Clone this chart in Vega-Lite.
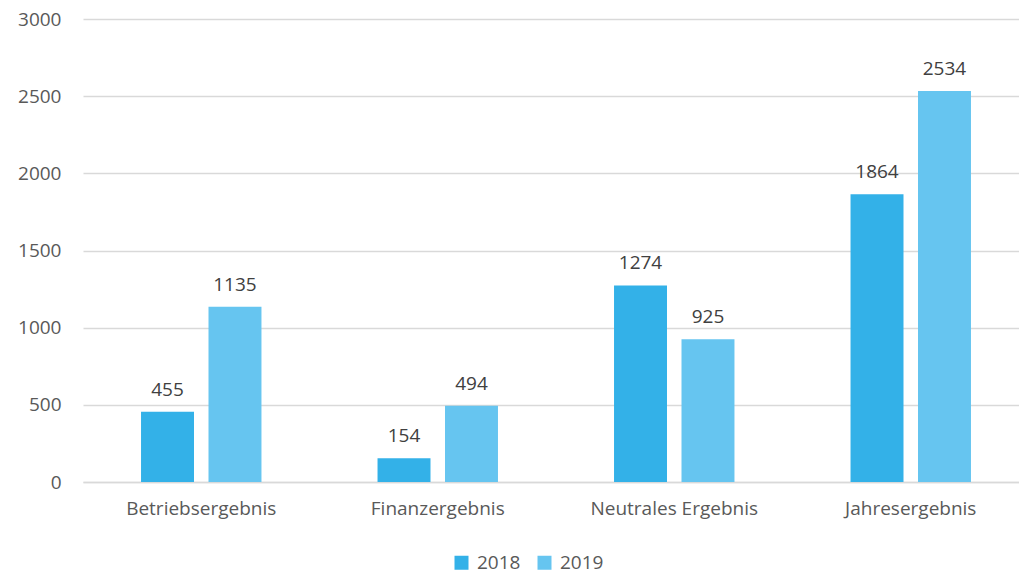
{
  "$schema": "https://vega.github.io/schema/vega-lite/v6.json",
  "width": 946,
  "height": 463,
  "autosize": {"type": "none"},
  "padding": {"left": 83, "top": 19, "right": 0, "bottom": 92},
  "config": {
    "view": {"stroke": null},
    "font": "Open Sans"
  },
  "data": {
    "values": [
      {"kategorie": "Betriebsergebnis", "jahr": "2018", "wert": 455},
      {"kategorie": "Betriebsergebnis", "jahr": "2019", "wert": 1135},
      {"kategorie": "Finanzergebnis", "jahr": "2018", "wert": 154},
      {"kategorie": "Finanzergebnis", "jahr": "2019", "wert": 494},
      {"kategorie": "Neutrales Ergebnis", "jahr": "2018", "wert": 1274},
      {"kategorie": "Neutrales Ergebnis", "jahr": "2019", "wert": 925},
      {"kategorie": "Jahresergebnis", "jahr": "2018", "wert": 1864},
      {"kategorie": "Jahresergebnis", "jahr": "2019", "wert": 2534}
    ]
  },
  "encoding": {
    "x": {
      "field": "kategorie", "type": "nominal", "sort": null,
      "scale": {"paddingInner": 0, "paddingOuter": 0},
      "axis": {"title": null, "labelAngle": 0, "domain": true, "domainColor": "#d9d9d9", "domainWidth": 1.5, "ticks": false, "labelPadding": 17, "labelFont": "Open Sans", "labelFontSize": 19, "labelColor": "#595959"}
    },
    "xOffset": {
      "field": "jahr", "type": "nominal",
      "scale": {"paddingInner": 0.215, "paddingOuter": 0.86}
    },
    "y": {
      "field": "wert", "type": "quantitative",
      "scale": {"domain": [0, 3000]},
      "axis": {"title": null, "values": [0, 500, 1000, 1500, 2000, 2500, 3000], "format": "d", "domain": false, "ticks": false, "labelPadding": 22, "gridColor": "#d9d9d9", "gridWidth": 1.5, "labelFont": "Open Sans", "labelFontSize": 19, "labelColor": "#595959"}
    }
  },
  "layer": [
    {
      "mark": {"type": "bar"},
      "encoding": {
        "color": {
          "field": "jahr", "type": "nominal",
          "scale": {"domain": ["2018", "2019"], "range": ["#33b1e8", "#66c5f0"]},
          "legend": {"title": null, "orient": "none", "legendX": 369, "legendY": 534, "direction": "horizontal", "symbolType": "square", "symbolSize": 196, "symbolStrokeWidth": 0, "columnPadding": 14, "labelOffset": 6, "labelFont": "Open Sans", "labelFontSize": 19, "labelColor": "#595959"}
        }
      }
    },
    {
      "mark": {"type": "text", "baseline": "alphabetic", "dy": -16, "fontSize": 19, "color": "#404040", "font": "Open Sans"},
      "encoding": {"text": {"field": "wert", "type": "quantitative"}}
    }
  ]
}
